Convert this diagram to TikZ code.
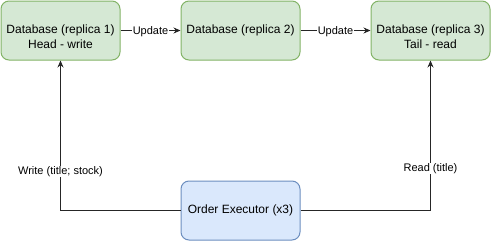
\documentclass[tikz,border=0pt]{standalone}
\usepackage{fontspec}
\setmainfont{Liberation Sans}
\usetikzlibrary{arrows.meta}
\definecolor{dbfill}{HTML}{D5E8D4}
\definecolor{dbline}{HTML}{82B366}
\definecolor{exfill}{HTML}{DAE8FC}
\definecolor{exline}{HTML}{6C8EBF}
\begin{document}
\begin{tikzpicture}[x=1pt,y=-1pt,
  dbbox/.style={draw=dbline,fill=dbfill,rounded corners=8pt,line width=1pt,
    minimum width=119pt,minimum height=59pt,inner sep=0pt,align=center,
    font=\fontsize{12}{14.5}\selectfont},
  exbox/.style={dbbox,draw=exline,fill=exfill},
  twoline/.style={label={[align=center,font=\fontsize{12}{14.5}\selectfont,
    yshift=-6pt]center:#1}},
  link/.style={draw=black!85,line width=1pt,-{Stealth[length=7pt,width=6pt]}},
  lbl/.style={fill=white,inner xsep=1pt,inner ysep=0pt,font=\fontsize{11}{13}\selectfont}]
\useasboundingbox (0,0) rectangle (491,241);
\node[dbbox,twoline={Database (replica 1)\\Head - write}] (r1) at (60.5,30.5) {};
\node[dbbox] (r2) at (240.5,30.5) {Database (replica 2)};
\node[dbbox,twoline={Database (replica 3)\\Tail - read}] (r3) at (430.5,30.5) {};
\node[exbox] (ex) at (240.5,210.5) {Order Executor (x3)};
\draw[link] (r1) -- node[lbl,yshift=-1pt] {Update} (r2);
\draw[link] (r2) -- node[lbl,yshift=-1pt] {Update} (r3);
\draw[link] (ex.west) -| node[lbl,pos=0.63] {Write (title; stock)} (r1.south);
\draw[link] (ex.east) -| node[lbl,pos=0.64] {Read (title)} (r3.south);
\end{tikzpicture}
\end{document}
